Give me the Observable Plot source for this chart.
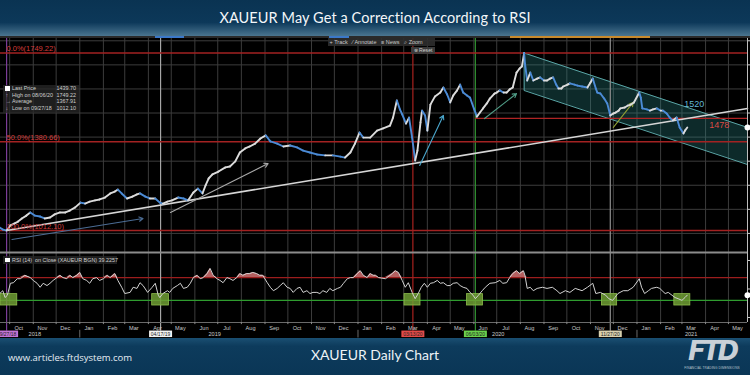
<!DOCTYPE html>
<html><head><meta charset="utf-8">
<script src="https://cdn.jsdelivr.net/npm/d3@7"></script>
<script src="https://cdn.jsdelivr.net/npm/@observablehq/plot@0.6"></script>
<style>
html,body{margin:0;padding:0;background:#000;width:750px;height:375px;overflow:hidden;}
#root{position:relative;width:750px;height:375px;background:#000;font-family:"Liberation Sans",Arial,sans-serif;}
#header{position:absolute;left:0;top:0;width:750px;height:36px;background:linear-gradient(#0a3352 0%,#0c3859 62%,#4a7590 100%);}
#title{position:absolute;left:0;top:1px;width:750px;line-height:34px;text-align:center;color:#f3f6f9;font-family:Lato,"Open Sans",sans-serif;font-size:14.5px;letter-spacing:0.1px;}
#topbar{position:absolute;left:0;top:36px;width:750px;height:2px;background:#2a2a2a;}
.bar{position:absolute;top:36px;height:2px;}
#main{position:absolute;left:0;top:36px;}
#rsi{position:absolute;left:0;top:252px;}
#footer{position:absolute;left:0;top:338px;width:750px;height:37px;background:linear-gradient(#1a4f72 0%,#0d3b5c 22%,#0a3656 100%);}
#url{position:absolute;left:8px;top:351px;color:#e6edf3;font-family:"Open Sans",sans-serif;font-size:9.5px;}
#sub{position:absolute;left:0;width:750px;top:346px;text-align:center;color:#eef3f7;font-family:Lato,"Open Sans",sans-serif;font-size:14px;}
#logo{position:absolute;left:684px;top:338px;width:56px;text-align:center;color:#c9d0d7;font-family:"DejaVu Sans",sans-serif;font-weight:bold;font-style:italic;font-size:26px;letter-spacing:-3px;line-height:26px;}
#logosub{position:absolute;left:684px;top:366px;width:56px;text-align:center;color:#b8c2cc;font-size:3.2px;letter-spacing:0.1px;white-space:nowrap;}
#legend{position:absolute;left:3px;top:85px;width:76px;height:28px;background:rgba(40,40,40,0.75);color:#cfcfcf;font-size:5.4px;}
#legend .row{position:relative;height:6.5px;line-height:6.5px;padding-left:9px;white-space:nowrap;}
#legend .val{position:absolute;right:3px;top:0;}
.sq{position:absolute;left:2px;top:1px;width:4.5px;height:4.5px;background:#fff;}
.ic{position:absolute;left:2.5px;top:0;color:#aaa;}
#tool{position:absolute;left:328px;top:38px;width:107px;height:8px;background:rgba(45,45,45,0.9);color:#c8c8c8;font-size:5.5px;line-height:8px;white-space:nowrap;}
#reset{position:absolute;left:411px;top:47px;width:24px;height:7px;background:rgba(60,60,60,0.95);color:#d0d0d0;font-size:5.2px;line-height:7px;text-align:center;}
#rsilegend{position:absolute;left:3px;top:256px;width:114px;height:8px;background:rgba(40,40,40,0.75);color:#cfcfcf;font-size:5.4px;line-height:8px;padding-left:9px;box-sizing:border-box;white-space:nowrap;}
#rsilegend .sq{top:1.7px;}
</style></head>
<body><div id="root">
<div id="header"><div id="title">XAUEUR May Get a Correction According to RSI</div></div>
<div id="main"></div>
<div id="rsi"></div>
<div id="topbar"></div>
<div class="bar" style="left:155px;width:29px;background:#3b78c9"></div>
<div class="bar" style="left:329px;width:20px;background:#3b78c9"></div>
<div class="bar" style="left:510px;width:140px;background:#c98a2c"></div>
<div id="tool">&nbsp;+ Track&nbsp;&nbsp;&nbsp;⁄ Annotate&nbsp;&nbsp;&nbsp;≡ News&nbsp;&nbsp;&nbsp;⌕ Zoom</div>
<div id="reset">⊗ Reset</div>
<div id="legend"></div>
<div id="rsilegend"><div class="sq"></div>RSI (14)&nbsp; on Close (XAUEUR BGN) 39.2257</div>
<div id="footer"></div>
<div id="url">www.articles.ftdsystem.com</div>
<div id="sub">XAUEUR Daily Chart</div>
<div id="logo">FTD</div>
<div id="logosub">FINANCIAL TRADING DIMENSIONS</div>
</div>
<script>
// ---------- DATA ----------
const priceDates = ["2018-09-18","2018-09-22","2018-09-27","2018-10-02","2018-10-07","2018-10-12","2018-10-17","2018-10-23","2018-10-28","2018-11-03","2018-11-10","2018-11-16","2018-11-23","2018-11-29","2018-12-06","2018-12-13","2018-12-19","2018-12-26","2019-01-02","2019-01-08","2019-01-14","2019-01-21","2019-01-27","2019-02-03","2019-02-10","2019-02-16","2019-02-20","2019-02-25","2019-03-04","2019-03-11","2019-03-17","2019-03-21","2019-03-28","2019-04-03","2019-04-10","2019-04-16","2019-04-20","2019-04-26","2019-05-02","2019-05-10","2019-05-17","2019-05-23","2019-05-30","2019-06-05","2019-06-11","2019-06-15","2019-06-19","2019-06-24","2019-07-02","2019-07-11","2019-07-17","2019-07-24","2019-07-30","2019-08-06","2019-08-12","2019-08-19","2019-08-26","2019-09-02","2019-09-08","2019-09-17","2019-09-25","2019-10-04","2019-10-13","2019-10-21","2019-10-30","2019-11-08","2019-11-19","2019-11-29","2019-12-09","2019-12-15","2019-12-22","2019-12-28","2020-01-03","2020-01-08","2020-01-17","2020-01-26","2020-02-03","2020-02-12","2020-02-16","2020-02-21","2020-02-25","2020-02-28","2020-03-04","2020-03-08","2020-03-12","2020-03-16","2020-03-19","2020-03-23","2020-03-25","2020-03-29","2020-04-01","2020-04-05","2020-04-11","2020-04-18","2020-04-22","2020-04-27","2020-05-01","2020-05-05","2020-05-10","2020-05-14","2020-05-18","2020-05-23","2020-05-27","2020-06-01","2020-06-05","2020-06-09","2020-06-13","2020-06-18","2020-06-22","2020-06-28","2020-07-01","2020-07-05","2020-07-10","2020-07-14","2020-07-18","2020-07-22","2020-07-27","2020-07-31","2020-08-03","2020-08-06","2020-08-07","2020-08-10","2020-08-14","2020-08-18","2020-08-23","2020-08-27","2020-09-01","2020-09-05","2020-09-09","2020-09-13","2020-09-17","2020-09-20","2020-09-24","2020-09-26","2020-10-02","2020-10-05","2020-10-11","2020-10-15","2020-10-21","2020-10-28","2020-11-01","2020-11-04","2020-11-08","2020-11-10","2020-11-14","2020-11-19","2020-11-23","2020-11-27","2020-12-01","2020-12-04","2020-12-08","2020-12-10","2020-12-16","2020-12-20","2020-12-24","2020-12-28","2021-01-04","2021-01-06","2021-01-08","2021-01-14","2021-01-18","2021-01-22","2021-01-27","2021-02-01","2021-02-04","2021-02-09","2021-02-13","2021-02-17","2021-02-22","2021-02-26","2021-03-03","2021-03-05","2021-03-08"];
const priceValues = [1024,1016,1012.1,1033,1041,1049,1062,1074,1087,1074,1070,1062,1066,1079,1087,1087,1095,1108,1128,1124,1132,1137,1141,1149,1166,1174,1182,1166,1145,1153,1162,1166,1153,1145,1145,1128,1124,1132,1137,1149,1145,1137,1170,1186,1166,1199,1228,1245,1257,1274,1278,1299,1336,1353,1361,1373,1394,1407,1382,1373,1361,1365,1357,1344,1336,1328,1324,1324,1319,1315,1336,1373,1419,1398,1398,1427,1436,1448,1481,1552,1515,1494,1456,1481,1398,1303,1344,1461,1510,1490,1427,1535,1569,1585,1606,1577,1544,1573,1594,1618,1585,1573,1564,1519,1485,1502,1519,1540,1560,1581,1585,1594,1585,1585,1598,1606,1668,1685,1693,1749.22,1706,1635,1668,1635,1643,1648,1635,1635,1643,1648,1618,1602,1602,1610,1618,1623,1618,1614,1610,1606,1627,1643,1602,1585,1581,1560,1540,1490,1498,1502,1510,1519,1523,1531,1535,1544,1585,1564,1519,1515,1510,1515,1519,1510,1510,1498,1481,1469,1481,1440,1415,1427,1439.7];

const rsiDates = ["2018-09-18","2018-09-22","2018-09-25","2018-09-28","2018-10-02","2018-10-06","2018-10-11","2018-10-15","2018-10-21","2018-10-28","2018-11-01","2018-11-06","2018-11-10","2018-11-14","2018-11-19","2018-11-23","2018-11-27","2018-12-02","2018-12-06","2018-12-10","2018-12-15","2018-12-19","2018-12-23","2018-12-28","2019-01-01","2019-01-05","2019-01-10","2019-01-14","2019-01-18","2019-01-23","2019-01-27","2019-02-01","2019-02-06","2019-02-10","2019-02-16","2019-02-20","2019-02-25","2019-03-01","2019-03-08","2019-03-12","2019-03-17","2019-03-21","2019-03-25","2019-03-31","2019-04-06","2019-04-10","2019-04-14","2019-04-16","2019-04-20","2019-04-26","2019-04-29","2019-05-03","2019-05-09","2019-05-13","2019-05-17","2019-05-22","2019-05-26","2019-05-30","2019-06-04","2019-06-08","2019-06-12","2019-06-17","2019-06-21","2019-06-25","2019-06-30","2019-07-04","2019-07-08","2019-07-13","2019-07-17","2019-07-21","2019-07-26","2019-07-30","2019-08-03","2019-08-08","2019-08-12","2019-08-16","2019-08-21","2019-08-25","2019-08-29","2019-09-04","2019-09-08","2019-09-12","2019-09-17","2019-09-21","2019-09-25","2019-09-30","2019-10-04","2019-10-08","2019-10-13","2019-10-17","2019-10-21","2019-10-26","2019-10-30","2019-11-03","2019-11-08","2019-11-12","2019-11-16","2019-11-21","2019-11-25","2019-11-29","2019-12-05","2019-12-09","2019-12-13","2019-12-18","2019-12-22","2019-12-26","2019-12-31","2020-01-04","2020-01-08","2020-01-13","2020-01-17","2020-01-21","2020-01-24","2020-01-28","2020-02-06","2020-02-15","2020-02-19","2020-02-23","2020-02-28","2020-03-03","2020-03-07","2020-03-12","2020-03-16","2020-03-20","2020-03-24","2020-03-28","2020-04-01","2020-04-05","2020-04-09","2020-04-14","2020-04-18","2020-04-22","2020-04-27","2020-05-01","2020-05-05","2020-05-10","2020-05-14","2020-05-18","2020-05-23","2020-05-27","2020-05-31","2020-06-03","2020-06-07","2020-06-12","2020-06-16","2020-06-22","2020-06-29","2020-07-05","2020-07-09","2020-07-14","2020-07-18","2020-07-22","2020-07-27","2020-07-31","2020-08-05","2020-08-07","2020-08-10","2020-08-14","2020-08-18","2020-08-23","2020-08-30","2020-09-05","2020-09-12","2020-09-18","2020-09-22","2020-09-29","2020-10-05","2020-10-12","2020-10-21","2020-10-28","2020-11-04","2020-11-08","2020-11-14","2020-11-21","2020-11-25","2020-11-30","2020-12-03","2020-12-07","2020-12-14","2020-12-20","2020-12-27","2021-01-04","2021-01-07","2021-01-11","2021-01-16","2021-01-20","2021-01-27","2021-01-31","2021-02-03","2021-02-07","2021-02-11","2021-02-16","2021-02-20","2021-02-24","2021-03-01","2021-03-05","2021-03-08"];
const rsiValues = [42,47,35,39,60,61,68,68,74,70,65,60,53,60,56,60,65,70,74,70,68,74,70,74,79,68,65,60,68,70,65,68,74,70,77,65,53,42,44,53,51,61,56,44,53,60,39,35,42,47,44,51,56,60,51,53,60,70,74,68,70,77,86,74,68,65,61,70,68,65,70,77,74,77,77,79,77,74,74,61,53,47,51,56,61,53,51,44,51,53,44,47,42,44,44,42,47,44,51,47,51,53,60,68,70,70,77,82,74,70,77,74,74,70,68,77,82,79,65,53,61,44,33,42,53,60,53,60,61,65,60,61,56,56,60,61,56,53,51,44,39,33,39,47,53,60,61,65,60,61,70,77,82,77,82,74,51,53,47,51,53,51,53,47,42,47,44,51,47,53,60,42,44,39,33,30,35,42,47,47,53,68,53,42,47,51,53,51,47,42,44,39,35,33,30,35,39.2];

const fibLevels = [1749.22, 1380.66, 1012.10];
const fibLabels = ["0.0%(1749.22)", "50.0%(1380.66)", "100.0%(1012.10)"];
const gridLevels = [1000,1100,1200,1300,1400,1500,1600,1700,1800];

const resistanceLevel = 1478, resistanceStart = "2020-06-03";
const levelLabels = ["1520", "1478"];
const levelLabelDates = ["2021-03-17", "2021-04-19"];
const levelLabelValues = [1520, 1478];

const trendDates = ["2018-09-27", "2021-05-26"];
const trendValues = [1012.1, 1518.7];

const channelDates = ["2020-08-06", "2021-05-26"];
const channelTop = [1749.2, 1440];
const channelBottom = [1593.5, 1286];

const arrowFrom = ["2018-10-04","2019-04-30","2020-03-22","2020-06-15","2020-12-01"];
const arrowFromVal = [975, 1087, 1282, 1477, 1440];
const arrowTo = ["2019-03-25","2019-09-05","2020-04-22","2020-07-27","2020-12-27"];
const arrowToVal = [1062, 1290, 1490, 1581, 1544];
const arrowColors = ["#4b6c94","#a9a9a9","#4aa6cc","#4f9c86","#8f9f35"];

const markerDates = ["2018-09-27","2019-04-17","2020-03-13","2020-06-03","2020-11-27"];
const markerLabels = ["09/27/18","04/17/19","03/13/20","06/03/20","11/27/20"];
const markerLineColors = ["#7b3d97","#a5a5a5","#a8221f","#2f8f2f","#8f8f8f"];
const markerTagColors = ["#c374d6","#f2f2f2","#e24a48","#6ad24c","#d9d0ae"];

const boxStart = ["2018-09-19","2019-04-06","2020-03-02","2020-05-23","2020-11-16","2021-02-19"];
const boxEnd = ["2018-10-11","2019-04-28","2020-03-23","2020-06-13","2020-12-06","2021-03-12"];
const boxLow = 21, boxHigh = 41;
const rsiUpper = 70, rsiLower = 30;

const yearLabels = ["2018","2019","2020","2021"];
const yearLabelDates = ["2018-11-03","2019-06-27","2020-07-03","2021-03-13"];
const yearBreaks = ["2019-01-01","2020-01-01","2021-01-01"];

const legendNames = ["Last Price","High on 08/06/20","Average","Low on 09/27/18"];
const legendValues = ["1439.70","1749.22","1367.91","1012.10"];
const legendIcons = ["sq","↑","→","↓"];

// ---------- BUILD ----------
const P = s => new Date(s + "T00:00:00Z");
const X0 = P("2018-09-19"), X1 = P("2021-05-26");
const price = priceDates.map((d,i)=>({date:P(d), v:priceValues[i]}));
const segs = price.slice(1).map((d,i)=>({x1:price[i].date,y1:price[i].v,x2:d.date,y2:d.v,c:d.v>=price[i].v?"#dcdcdc":"#4b8bd6"}));
const rsi = rsiDates.map((d,i)=>({date:P(d), v:rsiValues[i]}));
const monthStarts = d3.utcMonth.range(P("2018-10-01"), P("2021-06-01"));
const monthLabels = monthStarts.map(d=>d3.utcDay.offset(d,12));
const markers = markerDates.map((d,i)=>({date:P(d), label:markerLabels[i], line:markerLineColors[i], tag:markerTagColors[i]}));
const channel = channelDates.map((d,i)=>({date:P(d), hi:channelTop[i], lo:channelBottom[i]}));
const trend = trendDates.map((d,i)=>({date:P(d), v:trendValues[i]}));
const arrows = arrowFrom.map((d,i)=>({x1:P(d),y1:arrowFromVal[i],x2:P(arrowTo[i]),y2:arrowToVal[i],c:arrowColors[i]}));
const fib = fibLevels.map((v,i)=>({v, label:fibLabels[i]}));
const lvl = levelLabels.map((t,i)=>({t, date:P(levelLabelDates[i]), v:levelLabelValues[i]}));
const boxes = boxStart.map((d,i)=>({x1:P(d), x2:P(boxEnd[i])}));

const font = "Liberation Sans, Arial, sans-serif";

const main = Plot.plot({
  width:750, height:216, marginLeft:0, marginRight:3, marginTop:0, marginBottom:0,
  style:{background:"#000", overflow:"visible", fontFamily:font},
  x:{type:"utc", domain:[X0,X1], axis:null},
  y:{domain:[920.7,1817.8], axis:null},
  color:{type:"identity"},
  marks:[
    Plot.ruleY(gridLevels,{stroke:"#3c3c3c", strokeWidth:1}),
    Plot.ruleX(monthStarts,{stroke:"#3c3c3c", strokeWidth:1}),
    Plot.areaY(channel,{x:"date", y1:"lo", y2:"hi", fill:"#2a8a8a", fillOpacity:0.3}),
    Plot.line(channel,{x:"date", y:"hi", stroke:"#5aa5a6", strokeWidth:1}),
    Plot.line(channel,{x:"date", y:"lo", stroke:"#5aa5a6", strokeWidth:1}),
    Plot.ruleX(channel.slice(0,1),{x:"date", y1:"lo", y2:"hi", stroke:"#5aa5a6", strokeWidth:1}),
    Plot.ruleX(markers,{x:"date", stroke:"line", strokeWidth:1.2}),
    Plot.ruleY(fib,{y:"v", stroke:"#a32222", strokeWidth:1.3}),
    Plot.ruleY([resistanceLevel],{x1:P(resistanceStart), x2:X1, stroke:"#b02424", strokeWidth:1.3}),
    Plot.line(trend,{x:"date", y:"v", stroke:"#d6d6d6", strokeWidth:1.6}),
    Plot.arrow(arrows,{x1:"x1", y1:"y1", x2:"x2", y2:"y2", stroke:"c", strokeWidth:1.1, headLength:6}),
    Plot.link(segs,{x1:"x1", y1:"y1", x2:"x2", y2:"y2", stroke:"c", strokeWidth:1.9, strokeLinecap:"round"}),
    Plot.text(fib,{x:()=>X0, y:"v", text:"label", textAnchor:"start", dx:6, dy:-4, fill:"#d43c3a", fontSize:7.5}),
    Plot.text(lvl.slice(0,1),{x:"date", y:"v", text:"t", dy:-4, fill:"#63b7d3", fontSize:9}),
    Plot.text(lvl.slice(1),{x:"date", y:"v", text:"t", dy:7, fill:"#dd4a45", fontSize:9}),
    Plot.ruleX([X1],{stroke:"#bdbdbd", strokeWidth:1}),
    Plot.axisY({anchor:"right", ticks:gridLevels, tickSize:3, tickFormat:()=>"", stroke:"#cfcfcf"}),
    Plot.dot(price.slice(-1),{x:()=>X1, y:"v", r:3, fill:"#ffffff"})
  ]
});
document.getElementById("main").appendChild(main);

const rsiPlot = Plot.plot({
  width:750, height:86, marginLeft:0, marginRight:3, marginTop:0, marginBottom:16,
  style:{background:"#000", overflow:"visible", fontFamily:font},
  x:{type:"utc", domain:[X0,X1], axis:null},
  y:{domain:[-8.8,114], axis:null},
  color:{type:"identity"},
  marks:[
    Plot.ruleX(monthStarts,{y1:-8.8, y2:114, stroke:"#3c3c3c", strokeWidth:1}),
    Plot.ruleY([rsiUpper],{stroke:"#9c1d1d", strokeWidth:1.2}),
    Plot.ruleY([rsiLower],{stroke:"#2f9c2f", strokeWidth:1.2}),
    Plot.ruleX(markers,{x:"date", y1:114, y2:-24, stroke:"line", strokeWidth:1.2}),
    Plot.rect(boxes,{x1:"x1", x2:"x2", y1:boxLow, y2:boxHigh, fill:"#6e9d34", fillOpacity:0.85, stroke:"#8dbb4c", strokeWidth:0.8}),
    Plot.areaY(rsi,{x:"date", y1:rsiUpper, y2:d=>Math.max(rsiUpper,d.v), fill:"#c86a6a", fillOpacity:0.9}),
    Plot.line(rsi,{x:"date", y:"v", stroke:"#d2d2d2", strokeWidth:1}),
    Plot.ruleY([114],{stroke:"#8c8c8c", strokeWidth:2.2}),
    Plot.ruleY([-8.8],{stroke:"#6a6a6a", strokeWidth:1}),
    Plot.ruleX(monthStarts,{y1:-8.8, y2:-12.5, stroke:"#8a8a8a", strokeWidth:1}),
    Plot.ruleX([X1],{y1:-8.8, y2:114, stroke:"#bdbdbd", strokeWidth:1}),
    Plot.axisY({anchor:"right", ticks:[0,50,100], tickSize:3, tickFormat:()=>"", stroke:"#cfcfcf"}),
    Plot.dot(rsi.slice(-1),{x:()=>X1, y:"v", r:3, fill:"#ffffff"}),
    Plot.text(monthLabels,{x:d=>d, y:-19.3, text:d3.utcFormat("%b"), fill:"#c9c9c9", fontSize:5.6}),
    Plot.ruleX(yearBreaks.map(P),{y1:-22.5, y2:-36, stroke:"#6a6a6a", strokeWidth:1}),
    Plot.text(yearLabelDates.map(P),{x:d=>d, y:-29.9, text:(d,i)=>yearLabels[i], fill:"#c9c9c9", fontSize:5.6}),
    Plot.ruleX(markers,{x:"date", y1:-23.8, y2:-35.2, stroke:"tag", strokeWidth:23}),
    Plot.text(markers,{x:"date", y:-29.6, text:"label", fill:"#222", fontSize:5})
  ]
});
document.getElementById("rsi").appendChild(rsiPlot);

// legend box
const lg = document.getElementById("legend");
legendNames.forEach((n,i)=>{
  const row = document.createElement("div");
  row.className = "row";
  const ic = legendIcons[i]==="sq" ? '<div class="sq"></div>' : '<div class="ic">'+legendIcons[i]+'</div>';
  row.innerHTML = ic + n + '<span class="val">' + legendValues[i] + '</span>';
  lg.appendChild(row);
});
</script>
</body></html>
